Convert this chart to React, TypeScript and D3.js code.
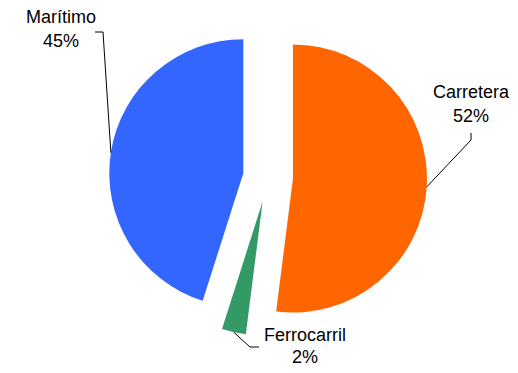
import React from "react";
import * as d3 from "d3";

const categories = ["Carretera", "Ferrocarril", "Marítimo"];
const values = [52.0, 2.9, 45.1];
const percentLabels = ["52%", "2%", "45%"];
const colors = ["#FF6600", "#339966", "#3366FF"];

const W = 518;
const H = 373;
const CX = 268;
const CY = 177;
const R = 134;
const EXPLODE = 25;

// label layout: text center x, first baseline, second baseline, elbow points
const labelLayout = [
  { tx: 471, y1: 98, y2: 122, elbow: [[471, 140], [471, 133]] },
  { tx: 305, y1: 341, y2: 363, elbow: [[250, 347], [259, 347]] },
  { tx: 61, y1: 23, y2: 47, elbow: [[103, 32], [95, 32]] },
];

export default function App() {
  const pie = d3
    .pie<number>()
    .sort(null)
    .value((d) => d)
    .startAngle(0)
    .endAngle(2 * Math.PI);
  const arcs = pie(values);
  const arc = d3
    .arc<d3.PieArcDatum<number>>()
    .innerRadius(0)
    .outerRadius(R);

  return (
    <svg
      width={W}
      height={H}
      style={{ position: "absolute", left: 0, top: 0, background: "#fff" }}
      fontFamily="'Liberation Sans', Arial, sans-serif"
    >
      <rect width={W} height={H} fill="#fff" />
      {arcs.map((a, i) => {
        const mid = (a.startAngle + a.endAngle) / 2;
        const ox = EXPLODE * Math.sin(mid);
        const oy = -EXPLODE * Math.cos(mid);
        return (
          <g key={categories[i]} transform={`translate(${CX + ox},${CY + oy})`}>
            <path d={arc(a) || ""} fill={colors[i]} />
          </g>
        );
      })}
      {arcs.map((a, i) => {
        const mid = (a.startAngle + a.endAngle) / 2;
        const sx = CX + (EXPLODE + R) * Math.sin(mid);
        const sy = CY - (EXPLODE + R) * Math.cos(mid);
        const L = labelLayout[i];
        const pts = [[sx, sy], ...L.elbow];
        const line = d3.line()(pts as [number, number][]);
        return (
          <g key={"l" + i}>
            <path d={line || ""} fill="none" stroke="#000" strokeWidth={1} />
            <text x={L.tx} y={L.y1} textAnchor="middle" fontSize={18} fill="#000">
              {categories[i]}
            </text>
            <text x={L.tx} y={L.y2} textAnchor="middle" fontSize={18} fill="#000">
              {percentLabels[i]}
            </text>
          </g>
        );
      })}
    </svg>
  );
}
